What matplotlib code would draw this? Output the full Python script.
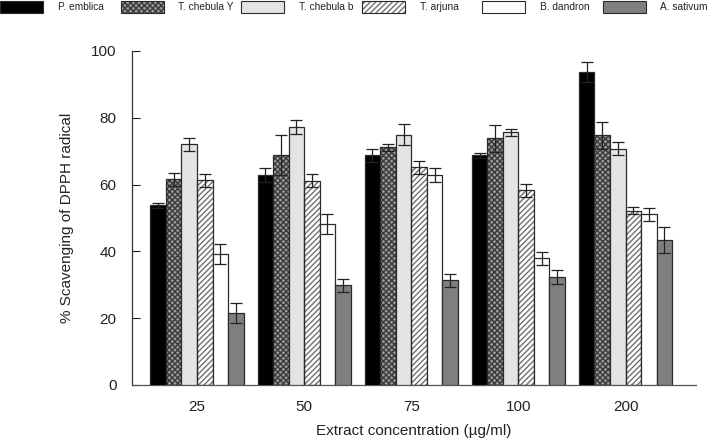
import matplotlib
matplotlib.use("Agg")
import matplotlib.pyplot as plt
import numpy as np
from matplotlib.patches import Rectangle

plt.rcParams['font.family'] = ['Liberation Sans', 'DejaVu Sans']

concentrations = ["25", "50", "75", "100", "200"]
series = ["P. emblica", "T. chebula Y", "T. chebula b", "T. arjuna", "B. dandron", "A. sativum"]

p_emblica   = [53.8, 62.9, 68.8, 68.8, 93.8]
t_chebula_y = [61.6, 68.8, 71.2, 73.9, 74.8]
t_chebula_b = [72.1, 77.2, 75.0, 75.7, 70.8]
t_arjuna    = [61.3, 61.2, 65.2, 58.3, 52.2]
b_dandron   = [39.1, 48.1, 62.9, 37.9, 51.1]
a_sativum   = [21.7, 29.8, 31.3, 32.3, 43.4]

p_emblica_err   = [0.8, 2.0, 2.0, 0.8, 3.0]
t_chebula_y_err = [2.0, 6.0, 1.0, 4.0, 4.0]
t_chebula_b_err = [2.0, 2.0, 3.0, 1.0, 2.0]
t_arjuna_err    = [2.0, 2.0, 2.0, 2.0, 1.0]
b_dandron_err   = [3.0, 3.0, 2.0, 2.0, 2.0]
a_sativum_err   = [3.0, 2.0, 2.0, 2.0, 4.0]

values = [p_emblica, t_chebula_y, t_chebula_b, t_arjuna, b_dandron, a_sativum]
errors = [p_emblica_err, t_chebula_y_err, t_chebula_b_err, t_arjuna_err, b_dandron_err, a_sativum_err]

# styles: (facecolor, hatch, hatchcolor)
styles = [
    ("black", None, None),
    ("#9a9a9a", "xxxxxx", "#3a3a3a"),
    ("#e4e4e4", None, None),
    ("white", "//////", "#707070"),
    ("white", None, None),
    ("#7f7f7f", None, None),
]

fig = plt.figure(figsize=(7.09, 4.38), dpi=100)
ax = fig.add_axes([132/709, 1-385/438, (696-132)/709, (385-51)/438])

x = np.arange(len(concentrations))
w = 0.145
edge = "#2a2a2a"
for i, (vals, errs) in enumerate(zip(values, errors)):
    fc, hatch, hc = styles[i]
    pos = x + (i - 2.5) * w
    if hatch:
        ax.bar(pos, vals, w, color=fc, edgecolor=hc, hatch=hatch, linewidth=0, zorder=2)
        ax.bar(pos, vals, w, color="none", edgecolor=edge, linewidth=0.9, zorder=3)
    else:
        ax.bar(pos, vals, w, color=fc, edgecolor=edge, linewidth=0.9, zorder=3)
    ax.errorbar(pos, vals, yerr=errs, fmt="none", ecolor="#222222", elinewidth=0.9,
                capsize=4, capthick=0.9, zorder=4)

ax.set_xlim(-0.607, 4.658)
ax.set_ylim(0, 100)
ax.set_yticks([0, 20, 40, 60, 80, 100])
ax.set_xticks(x)
ax.set_xticklabels(concentrations)
ax.tick_params(axis="y", direction="in", length=6, width=0.8, pad=11, labelsize=11, colors="#222222")
ax.tick_params(axis="x", length=0, pad=11, labelsize=11, colors="#222222")
for s in ["top", "right"]:
    ax.spines[s].set_visible(False)
ax.spines["left"].set_color("#333333")
ax.spines["bottom"].set_color("#555555")
ax.spines["left"].set_linewidth(0.9)
ax.spines["bottom"].set_linewidth(0.9)

ax.set_ylabel("% Scavenging of DPPH radical", fontsize=11, color="#222222")
ax.yaxis.set_label_coords((74 - 132) / 564, 0.5)
ax.set_xlabel("Extract concentration (\u00b5g/ml)", fontsize=11, labelpad=7, color="#222222")

# legend across the top
leg_x = [0, 120.5, 241, 361.5, 482, 602.5]
for i, name in enumerate(series):
    fc, hatch, hc = styles[i]
    x0 = leg_x[i] / 709
    y0 = 1 - 13/438
    if hatch:
        fig.add_artist(Rectangle((x0, y0), 43/709, 12/438, transform=fig.transFigure,
                                 facecolor=fc, edgecolor=hc, hatch=hatch, linewidth=0))
        fig.add_artist(Rectangle((x0, y0), 43/709, 12/438, transform=fig.transFigure,
                                 facecolor="none", edgecolor=edge, linewidth=0.8))
    else:
        fig.add_artist(Rectangle((x0, y0), 43/709, 12/438, transform=fig.transFigure,
                                 facecolor=fc, edgecolor=edge, linewidth=0.8))
    fig.text((leg_x[i] + 58) / 709, 1 - 7.5/438, name, fontsize=7.3, va="center", ha="left", color="#222222")

fig.savefig("out.png", dpi=100)
